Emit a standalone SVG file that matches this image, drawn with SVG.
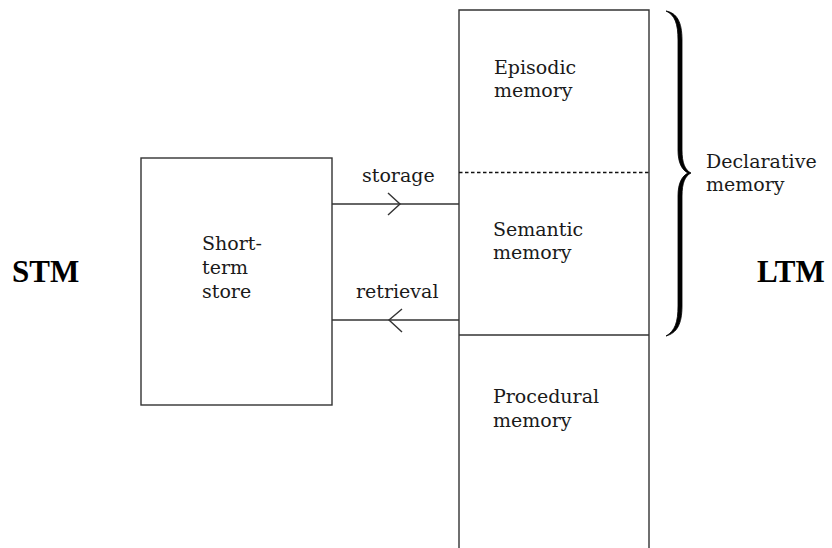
<svg xmlns="http://www.w3.org/2000/svg" width="832" height="548" viewBox="0 0 832 548">
  <style>
    .box { fill: none; stroke: #333; stroke-width: 1.4; }
    .ln { fill: none; stroke: #333; stroke-width: 1.4; }
    .dash { fill: none; stroke: #111; stroke-width: 1.3; stroke-dasharray: 3.5 2.5; }
    .lbl { font-family: "DejaVu Serif", "Liberation Serif", serif; font-size: 19px; fill: #1a1a1a; }
    .big { font-family: "Liberation Serif", "Times New Roman", serif; font-size: 31px; font-weight: bold; fill: #000; }
  </style>
  <rect width="832" height="548" fill="#fff"/>

  <!-- short-term store -->
  <g id="stm-store">
    <rect class="box" x="141" y="158" width="191" height="247"/>
    <text class="lbl" x="202" y="250">Short-</text>
    <text class="lbl" x="202" y="274">term</text>
    <text class="lbl" x="202" y="298">store</text>
  </g>

  <!-- long-term store column, open at the bottom -->
  <g id="ltm-column">
    <path class="box" d="M459,548 V10 H649 V548"/>
  </g>
  <g id="episodic">
    <text class="lbl" x="494" y="74">Episodic</text>
    <text class="lbl" x="494" y="97">memory</text>
  </g>
  <g id="semantic">
    <line class="dash" x1="459" y1="172.5" x2="649" y2="172.5"/>
    <text class="lbl" x="493" y="236">Semantic</text>
    <text class="lbl" x="493" y="259">memory</text>
  </g>
  <g id="procedural">
    <line class="ln" x1="459" y1="335" x2="649" y2="335"/>
    <text class="lbl" x="493" y="403">Procedural</text>
    <text class="lbl" x="493" y="427">memory</text>
  </g>

  <!-- declarative brace: filled so it tapers towards the hooks -->
  <g id="declarative">
    <path d="M666,11 C677,13 682,22 682,40 L682,150 C682,163 685,170 691,173 C685,176 682,183 682,196 L682,306 C682,324 677,333 666,336 C675,331 678,322 678,306 L678,196 C678,183 682,176 688,173 C682,170 678,163 678,150 L678,40 C678,24 675,15 666,11 Z" fill="#000" stroke="#000" stroke-width="0.8" stroke-linejoin="round"/>
    <text class="lbl" x="706" y="168">Declarative</text>
    <text class="lbl" x="706" y="191">memory</text>
  </g>

  <!-- STM / LTM headings -->
  <g id="stm-label"><text class="big" x="12" y="282">STM</text></g>
  <g id="ltm-label"><text class="big" x="757" y="282">LTM</text></g>

  <!-- connectors -->
  <g id="connectors">
    <line class="ln" x1="332" y1="204" x2="459" y2="204"/>
    <polyline class="ln" points="388,193 400,204 388,215"/>
    <text class="lbl" x="362" y="182">storage</text>
    <line class="ln" x1="332" y1="320" x2="459" y2="320"/>
    <polyline class="ln" points="402,309 389,320 402,332"/>
    <text class="lbl" x="356" y="298">retrieval</text>
  </g>
</svg>
